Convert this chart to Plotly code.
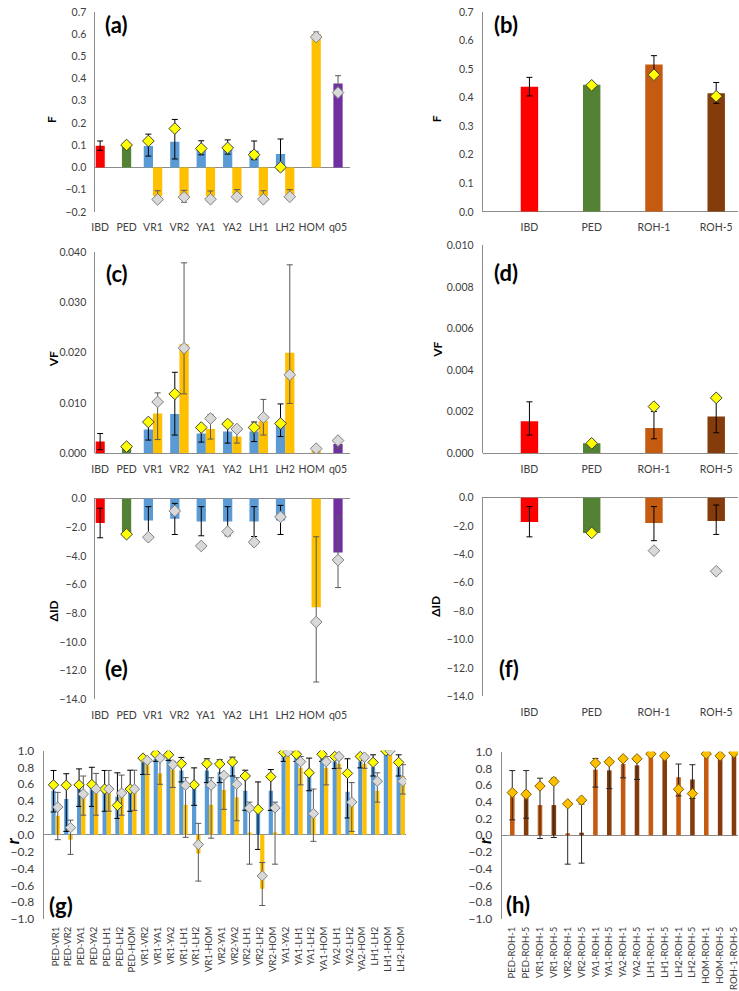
import plotly.graph_objects as go

W, H = 739, 991

# ---------------- data ----------------
cats_main = ["IBD", "PED", "VR1", "VR2", "YA1", "YA2", "LH1", "LH2", "HOM", "q05"]
pair_cats = ["VR1", "VR2", "YA1", "YA2", "LH1", "LH2"]
orange_cats = ["VR1", "VR2", "YA1", "YA2", "LH1", "LH2", "HOM"]
cats_roh = ["IBD", "PED", "ROH-1", "ROH-5"]

# (a) F
a_ibd = [0.098]; a_ibd_err = [0.021]
a_ped = [0.103]; a_ped_mk = [0.101]
a_blue = [0.096, 0.116, 0.087, 0.087, 0.075, 0.060]
a_blue_ep = [0.054, 0.100, 0.033, 0.037, 0.044, 0.068]
a_blue_em = [0.045, 0.078, 0.030, 0.027, 0.040, 0.073]
a_yellow = [0.119, 0.175, 0.085, 0.088, 0.057, 0.001]
a_orange = [-0.129, -0.130, -0.130, -0.122, -0.129, -0.122, 0.600]
a_orange_err = [0.024, 0.027, 0.024, 0.022, 0.024, 0.022, 0.010]
a_gray = [-0.144, -0.134, -0.143, -0.132, -0.143, -0.132, 0.587]
a_q05 = [0.378]; a_q05_err = [0.035]; a_q05_mk = [0.337]

# (b) F
b_vals = [0.438, 0.445, 0.516, 0.415]
b_ep = [0.033, 0.0, 0.031, 0.038]
b_em = [0.032, 0.0, 0.031, 0.035]
b_mk = [None, 0.443, 0.480, 0.405]

# (c) VF
c_ibd = [0.0023]; c_ibd_err = [0.0016]
c_ped = [0.0015]; c_ped_mk = [0.0013]
c_blue = [0.0047, 0.0078, 0.0039, 0.0043, 0.0043, 0.0059]
c_blue_ep = [0.0017, 0.0083, 0.0010, 0.0016, 0.0019, 0.0039]
c_blue_em = [0.0021, 0.0042, 0.0017, 0.0023, 0.0020, 0.0026]
c_yellow = [0.0062, 0.0118, 0.0051, 0.0058, 0.0051, 0.0059]
c_orange = [0.0079, 0.0217, 0.0048, 0.0033, 0.0064, 0.0200, 0.0005]
c_orange_ep = [0.0041, 0.0162, 0.0029, 0.0013, 0.0043, 0.0175, 0.0003]
c_orange_em = [0.0052, 0.0099, 0.0020, 0.0013, 0.0028, 0.0101, 0.0003]
c_gray = [0.0102, 0.0209, 0.0069, 0.0048, 0.0071, 0.0156, 0.0009]
c_q05 = [0.0018]; c_q05_ep = [0.0010]; c_q05_em = [0.0008]; c_q05_mk = [0.0025]

# (d) VF
d_vals = [0.00153, 0.00047, 0.00121, 0.00176]
d_ep = [0.00094, 0.0, 0.00079, 0.00104]
d_em = [0.00066, 0.0, 0.00052, 0.00078]
d_mk = [None, 0.00047, 0.00224, 0.00266]

# (e) Delta ID
e_ibd = [-1.71]; e_ibd_ep = [1.03]; e_ibd_em = [1.03]
e_ped = [-2.51]; e_ped_mk = [-2.49]
e_blue = [-1.53, -1.42, -1.60, -1.60, -1.60, -1.53]
e_blue_ep = [0.96, 1.08, 1.03, 1.03, 1.03, 1.05]
e_blue_em = [0.98, 1.09, 1.00, 1.00, 1.05, 0.98]
e_gray = [-2.70, -0.87, -3.31, -2.31, -3.04, -1.28]
e_hom = [-7.58]; e_hom_ep = [4.91]; e_hom_em = [5.21]; e_hom_mk = [-8.61]
e_q05 = [-3.77]; e_q05_ep = [2.51]; e_q05_em = [2.44]; e_q05_mk = [-4.29]

# (f) Delta ID
f_vals = [-1.73, -2.49, -1.80, -1.66]
f_ep = [1.09, 0.0, 1.16, 1.13]
f_em = [1.04, 0.0, 1.24, 0.94]
f_yellow = [None, -2.49, None, None]
f_gray = [None, None, -3.74, -5.19]

# (g) r between pairs
g_cats = ["PED-VR1", "PED-VR2", "PED-YA1", "PED-YA2", "PED-LH1", "PED-LH2", "PED-HOM",
          "VR1-VR2", "VR1-YA1", "VR1-YA2", "VR1-LH1", "VR1-LH2", "VR1-HOM",
          "VR2-YA1", "VR2-YA2", "VR2-LH1", "VR2-LH2", "VR2-HOM",
          "YA1-YA2", "YA1-LH1", "YA1-LH2", "YA1-HOM",
          "YA2-LH1", "YA2-LH2", "YA2-HOM", "LH1-LH2", "LH1-HOM", "LH2-HOM"]
g_blue = [0.523, 0.426, 0.562, 0.609, 0.543, 0.453, 0.543, 0.860, 0.900, 0.919, 0.764, 0.562, 0.764, 0.744,
          0.814, 0.523, 0.310, 0.523, 0.942, 0.930, 0.736, 0.930, 0.872, 0.512, 0.872, 0.806, 0.988, 0.806]
g_blue_hi = [0.764, 0.725, 0.783, 0.802, 0.764, 0.736, 0.767, 0.930, 0.969, 0.953, 0.919, 0.795, 0.903, 0.891,
             0.922, 0.767, 0.628, 0.775, 0.977, 0.969, 0.911, 0.969, 0.950, 0.903, 0.950, 0.950, 0.995, 0.950]
g_blue_lo = [0.271, 0.040, 0.337, 0.337, 0.279, 0.194, 0.279, 0.717, 0.872, 0.884, 0.628, 0.350, 0.620, 0.620,
             0.698, 0.291, -0.174, 0.290, 0.872, 0.872, 0.523, 0.872, 0.787, 0.200, 0.795, 0.698, 0.980, 0.698]
g_orange = [0.225, -0.058, 0.446, 0.496, 0.523, 0.496, 0.543, 0.845, 0.729, 0.775, 0.357, -0.221, 0.357, 0.531,
            0.446, 0.027, -0.640, 0.027, 0.977, 0.795, 0.252, 0.795, 0.845, 0.349, 0.845, 0.523, 0.988, 0.698]
g_orange_hi = [0.504, 0.174, 0.698, 0.729, 0.764, 0.709, 0.767, 0.900, 0.930, 0.872, 0.678, 0.136, 0.678, 0.717,
               0.678, 0.388, -0.330, 0.388, 0.985, 0.930, 0.543, 0.930, 0.900, 0.620, 0.900, 0.736, 0.995, 0.833]
g_orange_lo = [-0.058, -0.233, 0.233, 0.233, 0.280, 0.233, 0.290, 0.717, 0.600, 0.562, -0.030, -0.550, -0.040, 0.302,
               0.167, -0.349, -0.840, -0.349, 0.965, 0.593, -0.078, 0.593, 0.790, 0.040, 0.790, 0.388, 0.980, 0.484]
g_yellow = [0.593, 0.589, 0.593, 0.597, 0.543, 0.349, 0.543, 0.911, 0.961, 0.950, 0.845, 0.593, 0.845, 0.841,
            0.864, 0.698, 0.302, 0.690, 0.977, 0.957, 0.736, 0.957, 0.930, 0.729, 0.930, 0.860, 0.996, 0.860]
g_gray = [0.329, 0.085, 0.484, 0.543, 0.543, 0.496, 0.543, 0.884, 0.911, 0.833, 0.589, -0.116, 0.589, 0.705,
          0.601, 0.318, -0.488, 0.320, 0.984, 0.868, 0.252, 0.868, 0.930, 0.388, 0.922, 0.636, 0.996, 0.636]

# (h) r with ROH
h_cats = ["PED-ROH-1", "PED-ROH-5", "VR1-ROH-1", "VR1-ROH-5", "VR2-ROH-1", "VR2-ROH-5",
          "YA1-ROH-1", "YA1-ROH-5", "YA2-ROH-1", "YA2-ROH-5", "LH1-ROH-1", "LH1-ROH-5",
          "LH2-ROH-1", "LH2-ROH-5", "HOM-ROH-1", "HOM-ROH-5", "ROH-1-ROH-5"]
h_vals = [0.490, 0.537, 0.361, 0.361, 0.024, 0.031, 0.784, 0.776, 0.851, 0.835, 0.973, 0.949,
          0.694, 0.667, 0.973, 0.949, 0.980]
h_hi = [0.773, 0.773, 0.682, 0.682, 0.373, 0.373, 0.918, 0.894, 0.941, 0.941, 0.973, 0.949,
        0.851, 0.843, 0.973, 0.949, 0.980]
h_lo = [0.184, 0.204, -0.039, -0.027, -0.345, -0.333, 0.576, 0.557, 0.686, 0.667, 0.973, 0.949,
        0.470, 0.439, 0.973, 0.949, 0.980]
h_mk = [0.510, 0.490, 0.588, 0.643, 0.376, 0.420, 0.863, 0.878, 0.914, 0.914, 0.973, 0.949,
        0.549, 0.498, 0.973, 0.949, 0.988]

# ---------------- style ----------------
RED = "#FF0000"; GREEN = "#548235"; BLUE = "#5B9BD5"; ORANGE = "#FFC000"; PURPLE = "#7030A0"
ROH1 = "#C55A11"; ROH5 = "#843C0C"
YEL = "#FFFF00"; GRAYF = "#D9D9D9"; GRAYL = "#808080"
AXC = "#8C8C8C"; TXT = "#404040"
FONT = "Lato, Open Sans, sans-serif"

fig = go.Figure()


def ax(k):
    return ("x" if k == 1 else f"x{k}"), ("y" if k == 1 else f"y{k}")


def add_bar(k, x, y, color, width, offset, ep=None, em=None, ecol="#000000"):
    xa, ya = ax(k)
    err = dict(visible=False)
    if ep is not None:
        err = dict(type="data", symmetric=False, array=ep, arrayminus=em if em is not None else ep,
                   color=ecol, thickness=1, width=3, visible=True)
    fig.add_trace(go.Bar(x=x, y=y, width=width, offset=offset, marker=dict(color=color, line=dict(width=0)),
                         error_y=err, xaxis=xa, yaxis=ya, hoverinfo="skip"))


def add_mk(k, x, y, fill, line, size=9):
    xa, ya = ax(k)
    fig.add_trace(go.Scatter(x=x, y=y, mode="markers", xaxis=xa, yaxis=ya, hoverinfo="skip",
                             marker=dict(symbol="diamond", size=size, color=fill,
                                         line=dict(color=line, width=1))))


def idx(cats, names):
    return [cats.index(n) for n in names]


W1 = 0.35  # bar width on main category axes
i_ibd = idx(cats_main, ["IBD"]); i_ped = idx(cats_main, ["PED"]); i_q05 = idx(cats_main, ["q05"])
i_pair = idx(cats_main, pair_cats); i_or = idx(cats_main, orange_cats); i_hom = idx(cats_main, ["HOM"])
blue_slot = [i - W1 / 2 for i in i_pair]
or_slot = [i + W1 / 2 for i in i_or]

# (a)
add_bar(1, i_ibd, a_ibd, RED, W1, -W1 / 2, a_ibd_err)
add_bar(1, i_ped, a_ped, GREEN, W1, -W1 / 2)
add_bar(1, i_pair, a_blue, BLUE, W1, -W1, a_blue_ep, a_blue_em)
add_bar(1, i_or, a_orange, ORANGE, W1, 0, a_orange_err, a_orange_err, "#595959")
add_bar(1, i_q05, a_q05, PURPLE, W1, -W1 / 2, a_q05_err, a_q05_err, "#595959")
add_mk(1, i_ped, a_ped_mk, YEL, "#404040")
add_mk(1, blue_slot, a_yellow, YEL, "#404040")
add_mk(1, or_slot, a_gray, GRAYF, GRAYL)
add_mk(1, i_q05, a_q05_mk, GRAYF, GRAYL)

# (b)
W2 = 0.28
i_roh = list(range(len(cats_roh)))
add_bar(2, i_roh, b_vals, [RED, GREEN, ROH1, ROH5], W2, -W2 / 2, b_ep, b_em)
add_mk(2, i_roh, b_mk, YEL, "#404040")

# (c)
add_bar(3, i_ibd, c_ibd, RED, W1, -W1 / 2, c_ibd_err)
add_bar(3, i_ped, c_ped, GREEN, W1, -W1 / 2)
add_bar(3, i_pair, c_blue, BLUE, W1, -W1, c_blue_ep, c_blue_em)
add_bar(3, i_or, c_orange, ORANGE, W1, 0, c_orange_ep, c_orange_em, "#595959")
add_bar(3, i_q05, c_q05, PURPLE, W1, -W1 / 2, c_q05_ep, c_q05_em, "#595959")
add_mk(3, i_ped, c_ped_mk, YEL, "#404040")
add_mk(3, blue_slot, c_yellow, YEL, "#404040")
add_mk(3, or_slot, c_gray, GRAYF, GRAYL)
add_mk(3, i_q05, c_q05_mk, GRAYF, GRAYL)

# (d)
add_bar(4, i_roh, d_vals, [RED, GREEN, ROH1, ROH5], W2, -W2 / 2, d_ep, d_em)
add_mk(4, i_roh, d_mk, YEL, "#404040")

# (e)
add_bar(5, i_ibd, e_ibd, RED, W1, -W1 / 2, e_ibd_ep, e_ibd_em)
add_bar(5, i_ped, e_ped, GREEN, W1, -W1 / 2)
add_bar(5, i_pair, e_blue, BLUE, W1, -W1, e_blue_ep, e_blue_em)
add_bar(5, i_hom, e_hom, ORANGE, W1, 0, e_hom_ep, e_hom_em, "#595959")
add_bar(5, i_q05, e_q05, PURPLE, W1, -W1 / 2, e_q05_ep, e_q05_em, "#595959")
add_mk(5, i_ped, e_ped_mk, YEL, "#404040")
add_mk(5, blue_slot, e_gray, GRAYF, GRAYL)
add_mk(5, [i + W1 / 2 for i in i_hom], e_hom_mk, GRAYF, GRAYL)
add_mk(5, i_q05, e_q05_mk, GRAYF, GRAYL)

# (f)
add_bar(6, i_roh, f_vals, [RED, GREEN, ROH1, ROH5], W2, -W2 / 2, f_ep, f_em)
add_mk(6, i_roh, f_yellow, YEL, "#404040")
add_mk(6, i_roh, f_gray, GRAYF, GRAYL)

# (g)
W3 = 0.33
i_g = list(range(len(g_cats)))
add_bar(7, i_g, g_blue, BLUE, W3, -W3,
        [h - v for h, v in zip(g_blue_hi, g_blue)], [v - l for v, l in zip(g_blue, g_blue_lo)])
add_bar(7, i_g, g_orange, ORANGE, W3, 0,
        [h - v for h, v in zip(g_orange_hi, g_orange)], [v - l for v, l in zip(g_orange, g_orange_lo)],
        "#595959")
add_mk(7, [i - W3 / 2 for i in i_g], g_yellow, YEL, "#404040", 8)
add_mk(7, [i + W3 / 2 for i in i_g], g_gray, GRAYF, GRAYL, 8)

# (h)
W4 = 0.33
i_h = list(range(len(h_cats)))
h_cols = [ROH1 if c.endswith("ROH-1") else ROH5 for c in h_cats]
add_bar(8, i_h, h_vals, h_cols, W4, -W4 / 2,
        [hh - v for hh, v in zip(h_hi, h_vals)], [v - l for v, l in zip(h_vals, h_lo)], "#262626")
add_mk(8, i_h, h_mk, ORANGE, "#7F6000", 8)

# ---------------- axes ----------------
panels = [
    # k, x px domain, y px domain (top, bottom), xrange, yrange, dtick, fmt, cats, tickangle, xfont, yfont
    (1, (92, 348), (4, 207), [-0.18, 9.44], [-0.2, 0.7], 0.1, ".1f", cats_main, 0, 10.5, 10.5),
    (2, (482, 739), (4, 207), [-0.75, 3.35], [0.0, 0.7], 0.1, ".1f", cats_roh, 0, 10.5, 10.5),
    (3, (92, 348), (248, 452), [-0.18, 9.44], [0.0, 0.04], 0.01, ".3f", cats_main, 0, 10.5, 10.5),
    (4, (482, 739), (241, 452), [-0.75, 3.35], [0.0, 0.010], 0.002, ".3f", cats_roh, 0, 10.5, 10.5),
    (5, (92, 348), (498, 702), [-0.18, 9.44], [-14.0, 0.0], 2.0, ".1f", cats_main, 0, 10.5, 10.5),
    (6, (482, 739), (497, 699), [-0.75, 3.35], [-14.0, 0.0], 2.0, ".1f", cats_roh, 0, 10.5, 10.5),
    (7, (40, 405), (754, 925), [-0.93, 27.43], [-1.0, 1.0], 0.2, ".1f", g_cats, -90, 9.5, 12),
    (8, (501, 739), (755, 925), [-0.77, 16.29], [-1.0, 1.0], 0.2, ".1f", h_cats, -90, 9.5, 12),
]

layout = dict(width=W, height=H, margin=dict(l=0, r=0, t=0, b=0), showlegend=False,
              barmode="overlay", paper_bgcolor="white", plot_bgcolor="white",
              font=dict(family=FONT, color=TXT))
for k, xd, yd, xr, yr, dt, fmt, cats, ang, xf, yf in panels:
    xs = "xaxis" if k == 1 else f"xaxis{k}"
    ys = "yaxis" if k == 1 else f"yaxis{k}"
    xa, ya = ax(k)
    span = yr[1] - yr[0]
    layout[xs] = dict(domain=[xd[0] / W, xd[1] / W], range=xr, anchor=ya, tickmode="array",
                      tickvals=list(range(len(cats))), ticktext=cats, tickangle=ang,
                      showgrid=False, zeroline=False, showline=False,
                      ticks="outside", ticklen=(6 if ang == 0 else 3), tickcolor="rgba(0,0,0,0)",
                      ticklabeloverflow="allow", tickfont=dict(size=xf, color=TXT))
    layout[ys] = dict(domain=[1 - yd[1] / H, 1 - yd[0] / H], range=[yr[0] - span * 1e-4, yr[1] + span * 1e-4],
                      anchor=xa, dtick=dt, tick0=0, tickformat=fmt, showgrid=False,
                      zeroline=True, zerolinecolor=AXC, zerolinewidth=1,
                      showline=True, linecolor=AXC, linewidth=1,
                      ticks="outside", ticklen=6, tickcolor="rgba(0,0,0,0)",
                      tickfont=dict(size=yf, color=TXT))

ann = []
# y-axis titles
for text, x, y, size in [("F", 48, 113, 12), ("F", 435, 113, 12), ("VF", 50, 357, 12), ("VF", 437, 347, 12),
                         ("ΔID", 50, 612, 12), ("ΔID", 435, 608, 12), ("<i>r</i>", 8, 845, 17),
                         ("<i>r</i>", 483, 845, 17)]:
    ann.append(dict(text=f"<b>{text}</b>", x=x / W, y=1 - y / H, xref="paper", yref="paper",
                    showarrow=False, textangle=-90, xanchor="center", yanchor="middle",
                    font=dict(size=size, color="#000000", family=FONT)))
# panel labels
for text, x, y in [("(a)", 113, 17), ("(b)", 505, 17), ("(c)", 114, 270), ("(d)", 505, 269),
                   ("(e)", 113, 671), ("(f)", 508, 671), ("(g)", 57, 911), ("(h)", 518, 910)]:
    ann.append(dict(text=f"<b>{text}</b>", x=x / W, y=1 - y / H, xref="paper", yref="paper",
                    showarrow=False, xanchor="center", yanchor="middle",
                    font=dict(size=22, color="#000000", family=FONT)))
layout["annotations"] = ann
fig.update_layout(**layout)

fig.write_html("out.html", config={"displayModeBar": False},
               post_script="document.body.style.margin='0px';document.body.style.overflow='hidden';")
